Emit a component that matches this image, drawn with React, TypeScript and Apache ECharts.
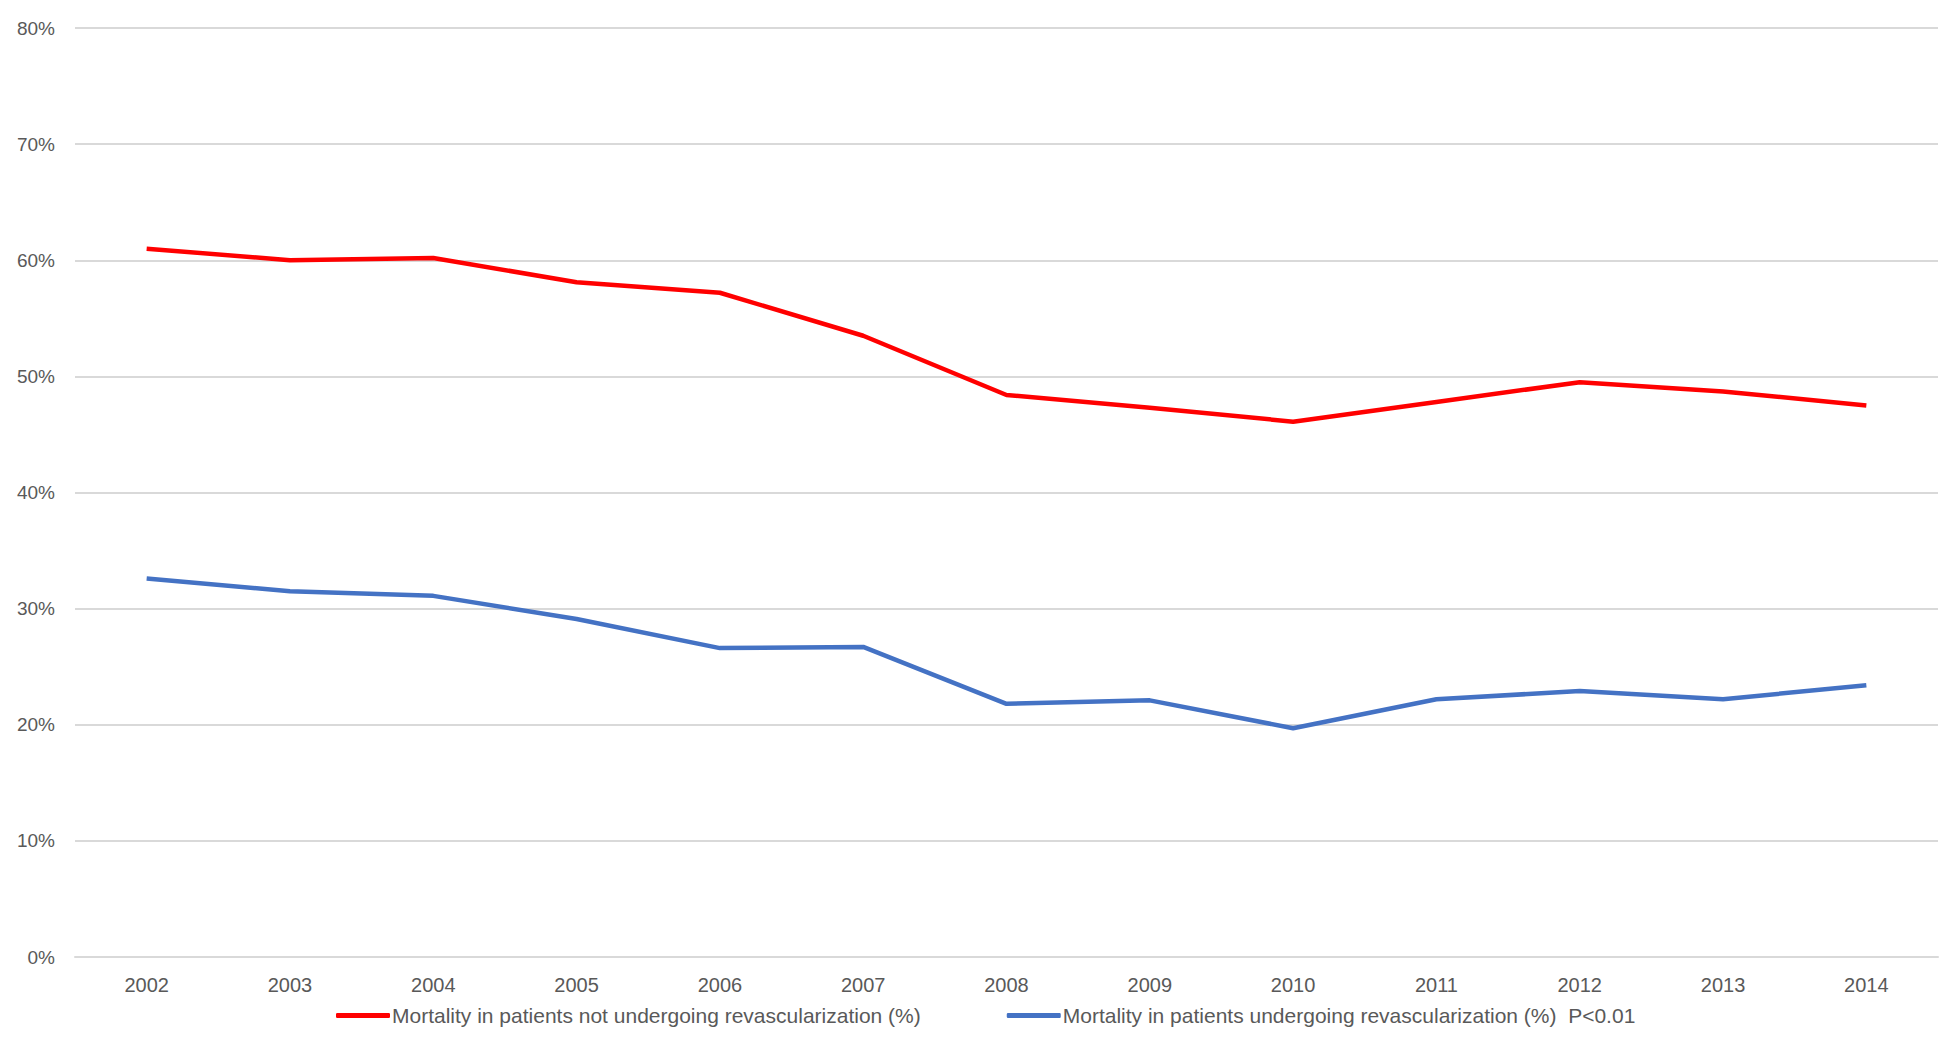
import React, { useEffect, useRef } from "react";
import * as echarts from "echarts";

const years = ["2002", "2003", "2004", "2005", "2006", "2007", "2008", "2009", "2010", "2011", "2012", "2013", "2014"];
const notRevascularized = [61.0, 60.0, 60.2, 58.1, 57.2, 53.5, 48.4, 47.3, 46.1, 47.8, 49.5, 48.7, 47.5];
const revascularized = [32.6, 31.5, 31.1, 29.1, 26.6, 26.7, 21.8, 22.1, 19.7, 22.2, 22.9, 22.2, 23.4];
const seriesNames = [
  "Mortality in patients not undergoing revascularization (%)",
  "Mortality in patients undergoing revascularization (%)  P<0.01",
];

const FONT = "Liberation Sans";
const TEXT = "#595959";

export default function App() {
  const ref = useRef<HTMLDivElement>(null);
  useEffect(() => {
    if (!ref.current) return;
    const chart = echarts.init(ref.current, undefined, { renderer: "svg" });
    chart.setOption({
      animation: false,
      backgroundColor: "#ffffff",
      textStyle: { fontFamily: FONT },
      grid: { left: 75, right: 12, top: 28, bottom: 85, containLabel: false },
      legend: {
        left: 331,
        top: 1000,
        itemWidth: 54,
        itemHeight: 5,
        itemGap: 86,
        icon: "roundRect",
        textStyle: { fontFamily: FONT, fontSize: 21, color: TEXT, padding: [0, 0, 0, -3] },
        data: seriesNames,
      },
      xAxis: {
        type: "category",
        data: years,
        boundaryGap: true,
        axisLine: { show: true, lineStyle: { color: "#d9d9d9", width: 2 } },
        axisTick: { show: false },
        axisLabel: { color: TEXT, fontFamily: FONT, fontSize: 20, margin: 18 },
      },
      yAxis: {
        type: "value",
        min: 0,
        max: 80,
        interval: 10,
        axisLine: { show: false },
        axisTick: { show: false },
        axisLabel: { color: TEXT, fontFamily: FONT, fontSize: 19, margin: 20, formatter: "{value}%" },
        splitLine: { lineStyle: { color: "#d9d9d9", width: 2 } },
      },
      series: [
        {
          name: seriesNames[0],
          type: "line",
          data: notRevascularized,
          symbol: "none",
          color: "#ff0000",
          lineStyle: { color: "#ff0000", width: 4.5 },
        },
        {
          name: seriesNames[1],
          type: "line",
          data: revascularized,
          symbol: "none",
          color: "#4472c4",
          lineStyle: { color: "#4472c4", width: 4.5 },
        },
      ],
    });
    return () => chart.dispose();
  }, []);
  return <div ref={ref} style={{ width: 1950, height: 1042, position: "absolute", left: 0, top: 0 }} />;
}
